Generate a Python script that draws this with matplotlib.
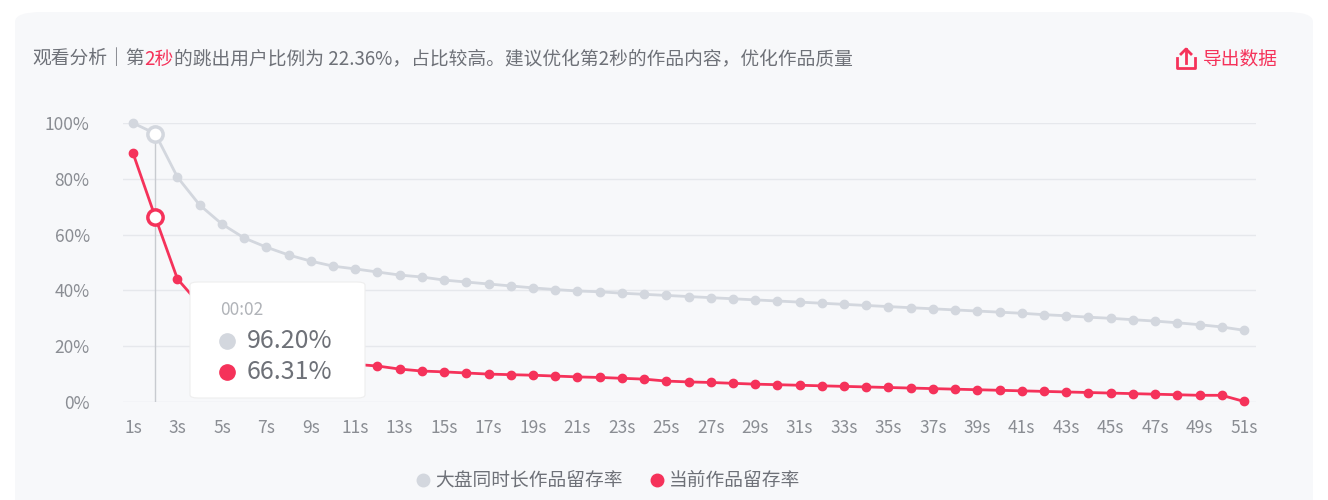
import matplotlib.pyplot as plt
from matplotlib.patches import FancyBboxPatch
from matplotlib.lines import Line2D

plt.rcParams['font.family'] = ['Noto Sans CJK SC', 'DejaVu Sans']

seconds = list(range(1, 52))
x_labels = [f"{s}s" for s in range(1, 52, 2)]
benchmark = [100.0, 96.2, 80.6, 70.6, 63.8, 58.8, 55.5, 52.7, 50.5, 48.7,
             47.7, 46.6, 45.5, 44.8, 43.7, 43.0, 42.3, 41.6, 40.9, 40.3,
             39.8, 39.5, 39.0, 38.6, 38.2, 37.8, 37.4, 37.0, 36.6, 36.2,
             35.8, 35.4, 35.0, 34.6, 34.2, 33.8, 33.4, 33.0, 32.6, 32.2,
             31.8, 31.3, 30.9, 30.4, 30.0, 29.5, 29.0, 28.4, 27.7, 26.9, 25.7]
current = [89.2, 66.31, 44.1, 35.0, 28.0, 23.0, 19.5, 17.2, 15.5, 14.3,
           13.5, 12.9, 11.8, 11.1, 10.8, 10.4, 10.0, 9.8, 9.6, 9.3,
           9.0, 8.8, 8.5, 8.2, 7.5, 7.2, 7.0, 6.7, 6.4, 6.2,
           6.0, 5.8, 5.6, 5.4, 5.2, 5.0, 4.8, 4.6, 4.4, 4.2,
           4.0, 3.8, 3.6, 3.4, 3.2, 3.0, 2.8, 2.6, 2.4, 2.4, 0.2]
hover_idx = 1

RED = '#f5325a'
GREY = '#d3d7de'
TEXT = '#6e7178'
BG = '#f7f8fa'

fig = plt.figure(figsize=(13.28, 5), dpi=100)
fig.patch.set_facecolor('white')
card = FancyBboxPatch((15 / 1328, -0.05), 1298 / 1328, 1.0 - 12 / 500 + 0.05,
                      boxstyle='round,pad=0,rounding_size=0.02',
                      transform=fig.transFigure, facecolor=BG, edgecolor='none', zorder=-10)
fig.patches.append(card)

ax = fig.add_axes([123 / 1328, 98 / 500, 1133 / 1328, 279 / 500])
ax.patch.set_alpha(0)
ax.set_xlim(0.55, 51.54)
ax.set_ylim(0, 100)
for s in ax.spines.values():
    s.set_visible(False)
ax.set_yticks([0, 20, 40, 60, 80, 100])
ax.set_yticklabels([f"{v}%" for v in [0, 20, 40, 60, 80, 100]])
ax.set_xticks(list(range(1, 52, 2)))
ax.set_xticklabels(x_labels)
ax.tick_params(length=0, labelsize=12.5, colors='#8a8d93', pad=12)
ax.tick_params(axis='y', pad=24)
ax.grid(axis='y', color='#e6e8ec', lw=1)
ax.set_axisbelow(True)

ax.axvline(seconds[hover_idx], ymin=0, ymax=benchmark[hover_idx] / 100, color='#c8cbd0', lw=1)
ax.plot(seconds, benchmark, color=GREY, lw=2, marker='o', ms=6, clip_on=False)
ax.plot(seconds, current, color=RED, lw=2, marker='o', ms=6, clip_on=False)
ax.plot(seconds[hover_idx], benchmark[hover_idx], 'o', ms=11, mfc='white', mec=GREY, mew=2.5, clip_on=False)
ax.plot(seconds[hover_idx], current[hover_idx], 'o', ms=11, mfc='white', mec=RED, mew=2.5)

# tooltip
tip = FancyBboxPatch((190 / 1328, 102 / 500), 175 / 1328, 116 / 500,
                     boxstyle='round,pad=0,rounding_size=0.006',
                     transform=fig.transFigure, facecolor='white', edgecolor='#eeeeee', lw=0.8, zorder=5)
fig.patches.append(tip)
fig.text(220 / 1328, 1 - 310 / 500, '00:02', fontsize=12.5, color='#b0b3b8', va='center', zorder=6)
fig.text(247 / 1328, 1 - 341 / 500, f"{benchmark[hover_idx]:.2f}%", fontsize=18, color=TEXT, va='center', zorder=6)
fig.text(247 / 1328, 1 - 372 / 500, f"{current[hover_idx]:.2f}%", fontsize=18, color=TEXT, va='center', zorder=6)
fig.lines.append(Line2D([227 / 1328], [1 - 341 / 500], marker='o', ms=11, color=GREY, transform=fig.transFigure, zorder=6))
fig.lines.append(Line2D([227 / 1328], [1 - 372 / 500], marker='o', ms=11, color=RED, transform=fig.transFigure, zorder=6))

# header
hy = 1 - 59 / 500
fs = 13.5
t1 = fig.text(32 / 1328, hy, '观看分析｜第', fontsize=fs, color=TEXT, va='center')
fig.canvas.draw()
r = fig.canvas.get_renderer()
bb = t1.get_window_extent(r)
t2 = fig.text(bb.x1 / 1328, hy, '2秒', fontsize=fs, color=RED, va='center')
bb = t2.get_window_extent(r)
fig.text(bb.x1 / 1328, hy, '的跳出用户比例为 22.36%，占比较高。建议优化第2秒的作品内容，优化作品质量',
         fontsize=fs, color=TEXT, va='center')
fig.text(1278 / 1328, hy, '导出数据', fontsize=fs, color=RED, va='center', ha='right')
# export icon
ix, iy = 1186, 59
for xs, ys in [([ix - 9, ix - 9, ix + 9, ix + 9], [iy - 1, iy + 9, iy + 9, iy - 1]),
               ([ix, ix], [iy + 4, iy - 10]),
               ([ix - 5, ix, ix + 5], [iy - 5, iy - 10, iy - 5])]:
    fig.lines.append(Line2D([v / 1328 for v in xs], [1 - v / 500 for v in ys],
                            color=RED, lw=2, transform=fig.transFigure))

# legend
ly = 1 - 480 / 500
fig.lines.append(Line2D([423 / 1328], [ly], marker='o', ms=9, color=GREY, transform=fig.transFigure))
fig.text(435 / 1328, ly, '大盘同时长作品留存率', fontsize=fs, color=TEXT, va='center')
fig.lines.append(Line2D([657 / 1328], [ly], marker='o', ms=9, color=RED, transform=fig.transFigure))
fig.text(669 / 1328, ly, '当前作品留存率', fontsize=fs, color=TEXT, va='center')

fig.savefig('out.png', dpi=100)
